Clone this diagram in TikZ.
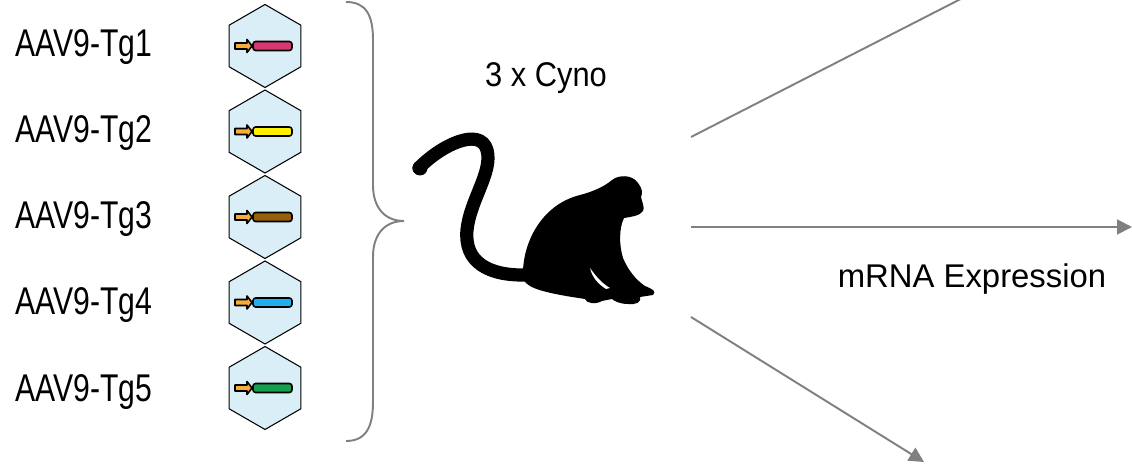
\documentclass[tikz,border=0pt]{standalone}
\usepackage{fontspec}
\setmainfont[FakeStretch=0.78]{Liberation Sans}
\newfontfamily\cynosans[FakeStretch=0.9]{Liberation Sans}
\newfontfamily\plainsans{Liberation Sans}
\usepackage{tikz}
\usetikzlibrary{shapes.geometric,arrows.meta,positioning,calc}

\definecolor{hexfill}{RGB}{218,238,247}
\definecolor{promoter}{RGB}{247,172,60}
\definecolor{tgpink}{RGB}{214,56,112}
\definecolor{tgyellow}{RGB}{255,240,0}
\definecolor{tgbrown}{RGB}{152,94,12}
\definecolor{tgblue}{RGB}{34,174,238}
\definecolor{tggreen}{RGB}{22,160,78}
\definecolor{flowgray}{RGB}{128,128,128}

\begin{document}
\begin{tikzpicture}[x=0.02cm,y=-0.02cm,
    vlabel/.style={anchor=base west,inner sep=0pt,font=\fontsize{22}{26}\selectfont},
    capsid/.style={regular polygon,regular polygon sides=6,shape border rotate=30,
      draw=black,line width=0.6pt,fill=hexfill,minimum size=1.66cm,inner sep=0pt},
    genebar/.style={draw=black,line width=0.9pt,line join=round},
    flow/.style={draw=flowgray,line width=1.1pt,-{Triangle[length=8.5pt,width=8.5pt]}}]
  \useasboundingbox (0,0) rectangle (1132,465);
  \clip (0,0) rectangle (1132,465);

  % vector list
  \node[capsid] (hex1) at (265,46) {};
  \node[capsid] (hex2) at (265,131.5) {};
  \node[capsid] (hex3) at (265,217) {};
  \node[capsid] (hex4) at (265,302.5) {};
  \node[capsid] (hex5) at (265,388) {};
  \node[vlabel] (tg1) at (15,57) {AAV9-Tg1};
  \node[vlabel] (tg2) at (15,143) {AAV9-Tg2};
  \node[vlabel] (tg3) at (15,229) {AAV9-Tg3};
  \node[vlabel] (tg4) at (15,315) {AAV9-Tg4};
  \node[vlabel] (tg5) at (15,402) {AAV9-Tg5};

  % promoter + transgene inside each capsid
  \foreach \i/\c in {1/tgpink,2/tgyellow,3/tgbrown,4/tgblue,5/tggreen}{
    \begin{scope}[shift={(hex\i.center)}]
      \draw[genebar,fill=\c,rounded corners=1.5pt] (-12,-4.5) rectangle (27,4.5);
      \draw[genebar,fill=promoter] (-30,-3) -- (-18,-3) -- (-18,-6.5) -- (-13,0)
        -- (-18,6.5) -- (-18,3) -- (-30,3) -- cycle;
    \end{scope}
  }

  % brace
  \draw[flowgray,line width=1.1pt] (346,2) .. controls (366,2) and (373,15) .. (373,40)
    -- (373,185) .. controls (373,208) and (385,221) .. (404,221)
    .. controls (385,221) and (373,234) .. (373,257)
    -- (373,402) .. controls (373,427) and (366,441) .. (346,441);

  \node[font=\cynosans\fontsize{19.5}{23}\selectfont,anchor=base] (cyno) at (546,87) {3 x Cyno};

  % monkey
  \draw[black,line width=7.5pt,line cap=round] (419,168)
    .. controls (440,146) and (480,126) .. (487,150)
    .. controls (493,172) and (470,200) .. (467,230)
    .. controls (464,262) and (488,276) .. (527,275);
  \fill[black] (420,168) circle (7.5);
  \fill[black] (523,276)
    .. controls (522,245) and (540,205) .. (580,195)
    .. controls (595,191) and (605,186) .. (612,180)
    .. controls (618,175) and (632,174) .. (638,183)
    .. controls (642,188) and (643,193) .. (641,197)
    .. controls (642,202) and (645,208) .. (643,211)
    .. controls (640,216) and (630,217) .. (624,218)
    .. controls (619,228) and (619,245) .. (623,258)
    .. controls (628,270) and (636,280) .. (645,286)
    .. controls (652,289) and (657,291) .. (653,295)
    -- (640,297)
    .. controls (642,302) and (636,305) .. (628,304)
    .. controls (620,304) and (614,301) .. (612,299)
    -- (602,301)
    .. controls (595,305) and (586,303) .. (585,299)
    .. controls (565,296) and (540,292) .. (530,286)
    .. controls (525,283) and (523,280) .. (523,276) -- cycle;
  \fill[white] (590,268) .. controls (597,278) and (603,284) .. (610,288)
    -- (606,289) .. controls (598,284) and (592,277) .. (590,268) -- cycle;

  % readouts
  \coordinate (src1) at (691,137);
  \coordinate (src2) at (691,227);
  \coordinate (src3) at (691,317);
  \coordinate (dst1) at (990,-16);
  \coordinate (dst2) at (1132,227);
  \coordinate (dst3) at (924,462);
  \draw[flow] (src1) -- (dst1);
  \draw[flow] (src2) -- (dst2);
  \draw[flow] (src3) -- (dst3);
  \node[font=\plainsans\fontsize{18.7}{22}\selectfont,anchor=base] (mrna) at (972,288) {mRNA Expression};
\end{tikzpicture}
\end{document}
